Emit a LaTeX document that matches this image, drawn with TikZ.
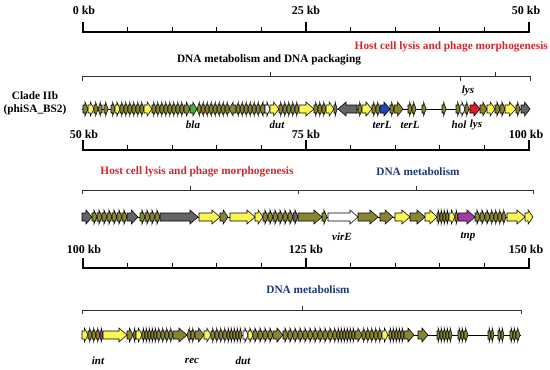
\documentclass[tikz,border=0pt]{standalone}
\usepackage{fontspec}
\setmainfont{Liberation Serif}
\definecolor{ol}{RGB}{135,133,45}
\definecolor{ye}{RGB}{250,245,80}
\definecolor{gr}{RGB}{100,100,100}
\definecolor{bl}{RGB}{30,70,190}
\definecolor{re}{RGB}{225,30,35}
\definecolor{ma}{RGB}{165,60,165}
\definecolor{gn}{RGB}{70,175,60}
\definecolor{wh}{RGB}{255,255,255}
\definecolor{lysred}{RGB}{210,40,45}
\definecolor{metblue}{RGB}{30,55,120}
\newcommand{\gene}[4]{%
  \pgfmathsetmacro{\glen}{#2-(#1)}%
  \pgfmathsetmacro{\ghd}{ifthenelse(\glen>0,1,-1)*min(8,abs(\glen)*0.6)}%
  \filldraw[genebox,fill=#4] (#1,#3-4) -- ({#2-(\ghd)},#3-4) -- ({#2-(\ghd)},#3-7)
    -- (#2,#3) -- ({#2-(\ghd)},#3+7) -- ({#2-(\ghd)},#3+4) -- (#1,#3+4) -- cycle;}

\begin{document}
\begin{tikzpicture}[x=1pt,y=-1pt,
  genebox/.style={draw=black,line width=0.55pt},
  ruler/.style={line width=1.4pt},
  bracket/.style={line width=0.6pt,draw=black!80},
  title/.style={font=\fontsize{11.3}{13}\selectfont\bfseries,inner sep=0pt},
  kb/.style={font=\fontsize{12}{14}\selectfont\bfseries,inner sep=0pt},
  genelabel/.style={font=\fontsize{11}{13}\selectfont\bfseries\itshape,inner sep=0pt}]
  \useasboundingbox (0,0) rectangle (550,370);
  % scale bars
  \foreach \y/\n in {32/0,150/1,268/2} {
    \draw[ruler] (83,\y) -- (529,\y);
    \foreach \i in {1,2,3,4,6,7,8,9}
      \draw[line width=1pt] ({83+\i*44.6},\y) -- ({83+\i*44.6},\y-5);
    \foreach \i in {0,5,10}
      \draw[line width=1.4pt] ({83+\i*44.6},\y+0.7) -- ({83+\i*44.6},\y-10);
  }
  \node[kb] (k0) at (84,10) {0 kb};
  \node[kb] (k25) at (306,10) {25 kb};
  \node[kb] (k50) at (526,10) {50 kb};
  \node[kb] (k50b) at (84,134) {50 kb};
  \node[kb] (k75) at (306,134) {75 kb};
  \node[kb] (k100) at (526,134) {100 kb};
  \node[kb] (k100b) at (84,249) {100 kb};
  \node[kb] (k125) at (306,249) {125 kb};
  \node[kb] (k150) at (526,249) {150 kb};

  % module brackets
  \draw[bracket] (82,81) -- (82,76) -- (460,76) -- (460,81);
  \draw[bracket] (270,76) -- (270,72);
  \draw[bracket] (460,76) -- (530,76) -- (530,81);
  \draw[bracket] (495,76) -- (495,72);
  \draw[bracket] (82,194) -- (82,190) -- (298,190) -- (298,194);
  \draw[bracket] (190,190) -- (190,186);
  \draw[bracket] (298,190) -- (533,190) -- (533,194);
  \draw[bracket] (416,190) -- (416,186);
  \draw[bracket] (82,314) -- (82,310) -- (521,310) -- (521,314);
  \draw[bracket] (302,310) -- (302,306);
  \node[title,text=lysred,anchor=east] (hc1) at (548,47) {Host cell lysis and phage morphogenesis};
  \node[title] (dna1) at (269,60) {DNA metabolism and DNA packaging};
  \node[title,text=lysred] (hc2) at (197,172) {Host cell lysis and phage morphogenesis};
  \node[title,text=metblue] (dna2) at (418,172) {DNA metabolism};
  \node[title,text=metblue] (dna3) at (308,290) {DNA metabolism};

  \node[title] (clade) at (35,96) {Clade IIb};
  \node[title] (phage) at (35,110) {(phiSA\_BS2)};

  % genome row 1
  \draw[line width=0.8pt] (82,109) -- (530,109);
  \foreach \a/\b/\gc in {83/88/ol,88/94/ye,94/98/ol,102/98/ol,104/108/ol,111/115/ol,
    115/120/ye,120/124/ol,124/128/ol,128/132/ol,132/136/ol,136/140/ol,140/144/ol,
    144/152/ye,152/156/ol,156/160/ol,160/164/ol,164/168/ol,168/172/ol,172/176/ol,
    176/180/ol,180/184/ol,184/190/ol,190/197/gn,201/197/ol,205/201/ol,209/205/ol,
    213/209/ol,217/213/ol,221/217/ol,225/221/ol,229/225/ol,236/229/ol,240/236/ol,
    244/240/ol,248/244/ol,252/248/ol,256/252/ol,260/256/ol,265/260/ol,265/270/wh,
    270/279/ye,279/283/ol,283/287/ol,287/291/ol,291/295/ol,295/299/ol,299/314/ye,
    314/318/ol,318/322/ol,322/326/ol,326/334/ye,334/337/ol,357/338/gr,358/362/ol,
    362/372/ye,372/376/ol,376/380/ol,380/390/bl,390/394/ol,394/403/ol,408/412/ol,
    412/416/ol,422/426/ol,442/446/ol,456/460/ol,460/465/wh,465/469/ol,470/480/re,
    480/487/ol,487/495/ye,495/500/ol,500/505/ol,505/516/ye,516/520/ol,521/530/gr}
    \gene{\a}{\b}{109}{\gc};
  \node[genelabel] (bla) at (193,125) {bla};
  \node[genelabel] (dut1) at (277,125) {dut};
  \node[genelabel] (terLa) at (382,125) {terL};
  \node[genelabel] (terLb) at (410,125) {terL};
  \node[genelabel] (hol) at (459,125) {hol};
  \node[genelabel] (lysb) at (476,125) {lys};
  \node[genelabel] (lysa) at (468,91) {lys};

  % genome row 2
  \draw[line width=0.8pt] (82,217) -- (533,217);
  \foreach \a/\b/\gc in {82/92/gr,92/97/ol,97/102/ol,102/107/ol,107/112/ol,112/117/ol,
    117/122/ol,122/127/ol,127/138/gr,140/145/ol,145/150/ol,150/155/ol,155/160/ol,
    160/198/gr,199/220/ye,220/228/ol,230/255/ye,255/263/ye,263/268/ol,268/273/ol,
    273/278/ol,278/283/ol,283/288/ol,288/293/ol,293/298/gr,298/322/ol,322/327/ol,
    328/358/wh,358/378/ol,380/393/ol,395/410/ye,410/425/ol,425/437/ye,437/440/ol,
    440/443/ol,443/446/ol,446/449/ol,449/455/ye,455/458/ol,458/475/ma,475/480/ol,
    480/485/ol,485/490/ol,490/494/ol,494/498/ol,498/502/ol,502/506/ol,507/525/ye,
    525/533/ye}
    \gene{\a}{\b}{217}{\gc};
  \node[genelabel] (virE) at (342,237) {virE};
  \node[genelabel] (tnp) at (468,237) {tnp};

  % genome row 3
  \draw[line width=0.8pt] (82,335) -- (521,335);
  \foreach \a/\b/\gc in {82/88/ye,88/92/ol,92/96/ol,96/100/ol,100/103/ma,103/127/ye,
    127/133/ol,136/133/ol,136/142/ye,142/145/ol,145/148/ol,148/151/ol,151/154/ol,
    154/157/ol,157/161/ol,161/165/ol,165/169/ol,169/173/ol,173/187/ol,191/187/ol,
    191/195/ol,195/204/ol,204/211/ye,211/215/ol,215/219/ol,219/223/ol,223/227/ol,
    227/230/ol,230/233/ol,233/236/ol,236/239/ol,239/242/ol,243/248/wh,248/253/ye,
    253/258/ol,258/263/ol,263/268/ol,268/273/ol,273/283/ol,283/288/ol,288/293/ol,
    293/298/ol,298/303/ol,303/308/ol,308/313/ol,313/318/ol,318/323/ol,323/328/ol,
    328/333/ol,333/337/ol,337/340/ol,340/343/ol,343/346/ol,346/349/ol,349/352/ol,
    352/355/ol,355/362/ol,362/366/ol,366/370/ol,370/374/ol,374/378/ol,378/382/ol,
    382/388/ye,389/392/ol,392/395/ol,395/398/ol,398/401/ol,401/404/ol,404/414/ol,
    418/428/ol,437/440/ol,440/443/ol,443/446/ol,446/449/ol,449/452/ol,458/461/ol,
    461/464/ol,464/468/ol,488/491/ol,491/494/ol,498/501/ol,501/504/ol,510/513/ol,
    513/516/ol,516/520/ol}
    \gene{\a}{\b}{335}{\gc};
  \node[genelabel] (int) at (98,361) {int};
  \node[genelabel] (rec) at (192,361) {rec};
  \node[genelabel] (dut2) at (243,361) {dut};
\end{tikzpicture}
\end{document}
